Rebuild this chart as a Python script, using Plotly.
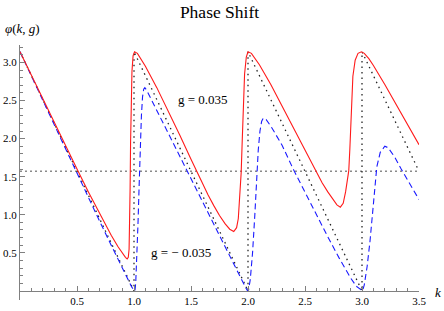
import numpy as np
import plotly.graph_objects as go

PI = 3.14159

# free (g = 0) phase shift: sawtooth
k_free = [0, 1, 1, 2, 2, 3, 3, 3.5]
phi_free = [PI, 0, PI, 0, PI, 0, PI, PI / 2]

# g = 0.035 (red, solid)
k_red = [0, 0.1, 0.2, 0.3, 0.4, 0.5, 0.6, 0.7, 0.8, 0.86, 0.9, 0.925, 0.94, 0.95, 0.957, 0.962,
         0.966, 0.97, 0.975, 0.982, 0.992, 1.005,
         1.03, 1.06, 1.1, 1.2, 1.3, 1.4, 1.5, 1.54, 1.6, 1.65, 1.7, 1.75, 1.8, 1.84, 1.875, 1.9,
         1.915, 1.928, 1.94, 1.95, 1.96, 1.97, 1.985, 2.0,
         2.03, 2.07, 2.1, 2.2, 2.3, 2.4, 2.5, 2.59, 2.65, 2.7, 2.75, 2.78, 2.81, 2.835, 2.856,
         2.872, 2.884, 2.893, 2.9, 2.91, 2.92, 2.94, 2.965, 2.995,
         3.02, 3.06, 3.1, 3.2, 3.3, 3.4, 3.5]
phi_red = [3.1416, 2.83, 2.52, 2.21, 1.90, 1.60, 1.30, 1.01, 0.73, 0.58, 0.49, 0.44, 0.42, 0.44, 0.55, 0.85,
           1.35, 1.95, 2.5, 2.88, 3.09, 3.14,
           3.12, 3.05, 2.95, 2.67, 2.37, 2.05, 1.73, 1.60, 1.41, 1.26, 1.12, 0.99, 0.88, 0.81, 0.78, 0.83,
           0.95, 1.2, 1.55, 2.0, 2.5, 2.85, 3.07, 3.14,
           3.12, 3.04, 2.97, 2.71, 2.42, 2.13, 1.84, 1.58, 1.42, 1.30, 1.19, 1.13, 1.10, 1.15, 1.30,
           1.44, 1.58, 1.85, 2.14, 2.55, 2.82, 3.03, 3.12, 3.14,
           3.12, 3.05, 2.96, 2.71, 2.45, 2.18, 1.92]

# g = -0.035 (blue, dashed)
k_blue = [0, 0.1, 0.2, 0.3, 0.4, 0.5, 0.6, 0.7, 0.8, 0.9, 0.95, 0.98, 1.0, 1.008, 1.015, 1.025,
          1.035, 1.045, 1.055, 1.065, 1.075, 1.085, 1.095, 1.11, 1.15, 1.2, 1.3, 1.4, 1.5, 1.6,
          1.7, 1.8, 1.9, 1.95, 1.98, 1.995, 2.005, 2.02, 2.04, 2.06, 2.075, 2.09, 2.105, 2.12,
          2.135, 2.16, 2.21, 2.3, 2.4, 2.5, 2.6, 2.7, 2.8, 2.9, 2.95, 2.99, 3.005, 3.02, 3.045,
          3.07, 3.09, 3.11, 3.13, 3.16, 3.2, 3.23, 3.29, 3.34, 3.4, 3.5]
phi_blue = [3.1416, 2.82, 2.50, 2.18, 1.86, 1.54, 1.22, 0.91, 0.60, 0.29, 0.14, 0.05, 0.01, 0.0, 0.1, 0.42,
            0.88, 1.38, 1.88, 2.3, 2.55, 2.65, 2.67, 2.64, 2.52, 2.37, 2.06, 1.76, 1.46, 1.16,
            0.86, 0.56, 0.27, 0.13, 0.04, 0.005, 0.01, 0.15, 0.5, 1.0, 1.45, 1.85, 2.1, 2.23,
            2.27, 2.25, 2.14, 1.91, 1.59, 1.29, 0.99, 0.71, 0.43, 0.17, 0.06, 0.01, 0.0, 0.08, 0.32,
            0.65, 0.98, 1.35, 1.63, 1.82, 1.90, 1.88, 1.75, 1.61, 1.45, 1.20]

# reference line at pi/2
k_ref = [0, 3.5]
phi_ref = [PI / 2, PI / 2]

x_ticks = [0.5, 1.0, 1.5, 2.0, 2.5, 3.0, 3.5]
x_ticktext = ["0.5", "1.0", "1.5", "2.0", "2.5", "3.0", "3.5"]
y_ticks = [0.5, 1.0, 1.5, 2.0, 2.5, 3.0]
y_ticktext = ["0.5", "1.0", "1.5", "2.0", "2.5", "3.0"]

FONT = "Liberation Serif, Times New Roman, serif"
AXC = "#808080"

W, H = 444, 311
L, T, R = 20, 45, 25
PW = W - L - R            # 399
PH = 254.6
B = H - T - PH

fig = go.Figure()
fig.add_trace(go.Scatter(x=k_ref, y=phi_ref, mode="lines",
                         line=dict(color="#8a8a8a", width=1.5, dash="2px,3px"), hoverinfo="skip"))
fig.add_trace(go.Scatter(x=k_free, y=phi_free, mode="lines",
                         line=dict(color="#222222", width=1.3, dash="1.5px,4px"), hoverinfo="skip"))
fig.add_trace(go.Scatter(x=k_blue, y=phi_blue, mode="lines",
                         line=dict(color="#1a1aff", width=1.1, dash="6px,3.5px"), hoverinfo="skip"))
fig.add_trace(go.Scatter(x=k_red, y=phi_red, mode="lines",
                         line=dict(color="#ff1a1a", width=1.1), hoverinfo="skip"))

ymin, ymax = -0.12, 3.23
fig.update_layout(
    width=W, height=H,
    margin=dict(l=L, r=R, t=T, b=B, autoexpand=False),
    paper_bgcolor="white", plot_bgcolor="white",
    showlegend=False,
    font=dict(family=FONT, size=11, color="black"),
    title=dict(text="Phase Shift", x=0.5, xref="paper", xanchor="center",
               y=1 - 12 / H, yref="container", yanchor="middle",
               font=dict(family=FONT, size=17.5, color="black")),
    xaxis=dict(range=[0, 3.5], showgrid=False, zeroline=False,
               anchor="free", position=(0 - ymin) / (ymax - ymin),
               showline=True, linecolor=AXC, linewidth=1,
               tickvals=x_ticks, ticktext=x_ticktext,
               ticks="inside", ticklen=5, tickcolor=AXC, tickwidth=1,
               minor=dict(tickvals=list(np.round(np.arange(0.1, 3.51, 0.1), 2)),
                          ticks="inside", ticklen=3, tickcolor=AXC, tickwidth=1),
               tickfont=dict(family=FONT, size=11, color="black")),
    yaxis=dict(range=[ymin, ymax], showgrid=False, zeroline=False,
               showline=True, linecolor=AXC, linewidth=1,
               tickvals=y_ticks, ticktext=y_ticktext,
               ticks="inside", ticklen=5, tickcolor=AXC, tickwidth=1,
               minor=dict(tickvals=list(np.round(np.arange(0.1, 3.21, 0.1), 2)),
                          ticks="inside", ticklen=3, tickcolor=AXC, tickwidth=1),
               tickfont=dict(family=FONT, size=11, color="black")),
)

def px_to_paper(wx, wy):
    return (wx - L) / PW, (T + PH - wy) / PH

lx, ly = px_to_paper(3, 29)
fig.add_annotation(text="<i>φ</i>(<i>k</i>, <i>g</i>)", xref="paper", yref="paper",
                   x=lx, y=ly, xanchor="left", yanchor="middle",
                   showarrow=False, font=dict(family=FONT, size=13, color="black"))
kx, ky = px_to_paper(438, 292)
fig.add_annotation(text="<i>k</i>", xref="paper", yref="paper",
                   x=kx, y=ky, xanchor="center", yanchor="middle",
                   showarrow=False, font=dict(family=FONT, size=13, color="black"))
fig.add_annotation(text="g = 0.035", xref="x", yref="y", x=1.605, y=2.51,
                   showarrow=False, font=dict(family=FONT, size=13, color="black"))
fig.add_annotation(text="g = \u2212 0.035", xref="x", yref="y", x=1.41, y=0.50,
                   showarrow=False, font=dict(family=FONT, size=13, color="black"))

fig.write_html("out.html", config={"displayModeBar": False},
               post_script="document.body.style.margin='0';document.body.style.padding='0';"
                           "document.documentElement.style.overflow='hidden';")
